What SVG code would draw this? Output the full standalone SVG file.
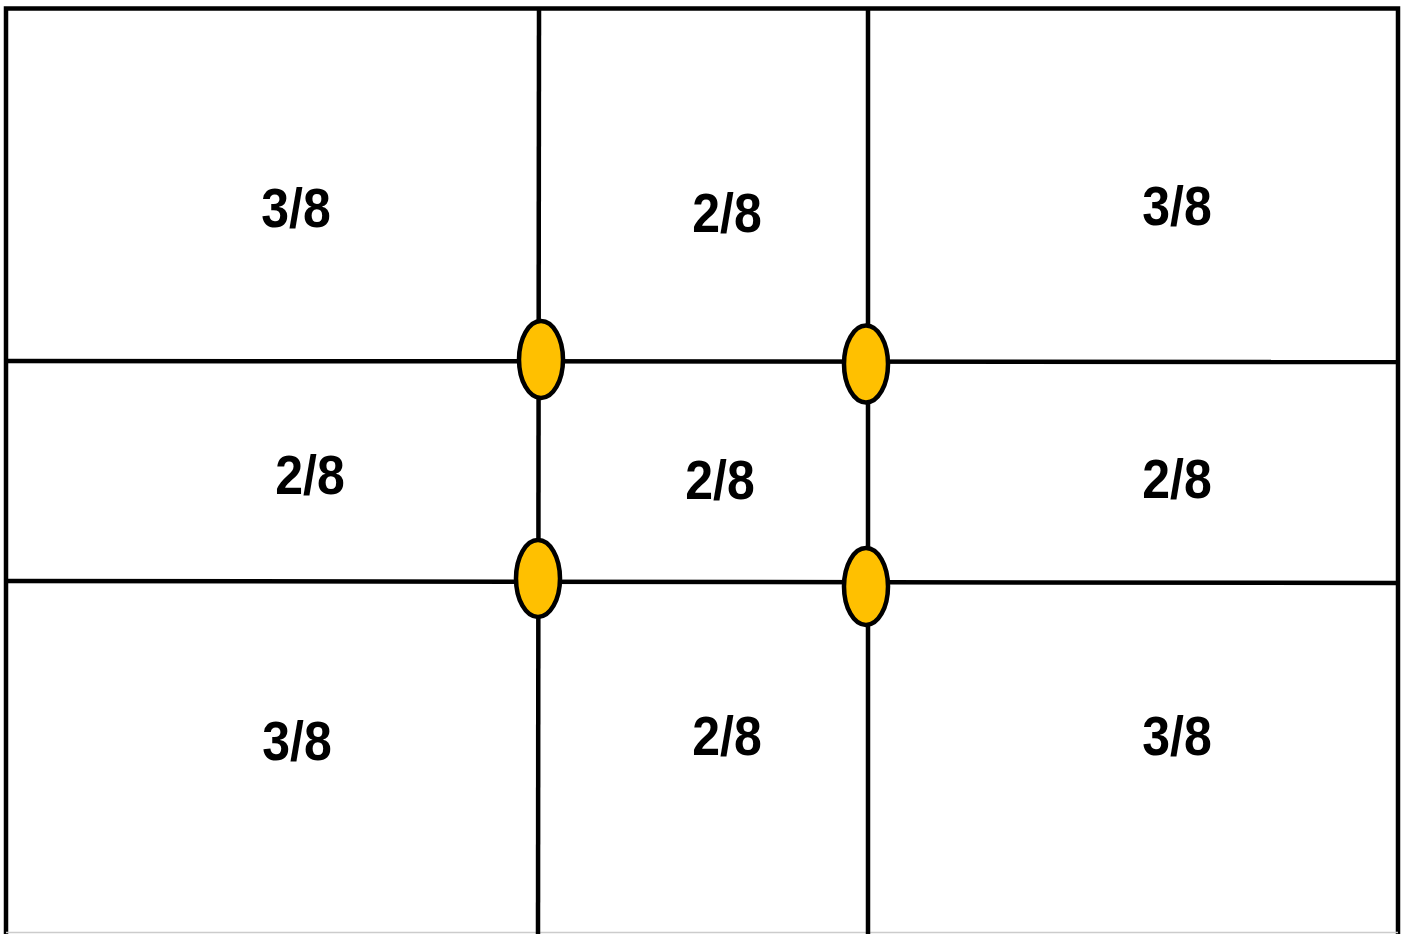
<svg xmlns="http://www.w3.org/2000/svg" width="1405" height="934" viewBox="0 0 1405 934">
<style>
.ln{stroke:#000;stroke-width:4.5;fill:none}
.dot{fill:#FFC000;stroke:#000;stroke-width:4.5}
.lb{font-family:"Liberation Sans",Arial,sans-serif;font-weight:bold;font-size:50px;fill:#000;text-anchor:middle}
</style>
<rect width="1405" height="934" fill="#fff"/>
<g id="grid">
<path class="ln" d="M6 934 V8.5 H1398 V934"/>
<line x1="6" y1="932.5" x2="1398" y2="932.5" stroke="#ccc" stroke-width="1.5"/>
<line class="ln" x1="539" y1="8" x2="538" y2="934"/>
<line class="ln" x1="868" y1="8" x2="868" y2="934"/>
<line class="ln" x1="6" y1="361" x2="1398" y2="362"/>
<line class="ln" x1="6" y1="581" x2="1398" y2="583"/>
</g>
<g id="labels">
<text class="lb" x="296" y="227" transform="translate(296 227) scale(1 1.1) translate(-296 -227)">3/8</text>
<text class="lb" x="727" y="232" transform="translate(727 232) scale(1 1.1) translate(-727 -232)">2/8</text>
<text class="lb" x="1177" y="225" transform="translate(1177 225) scale(1 1.1) translate(-1177 -225)">3/8</text>
<text class="lb" x="310" y="494" transform="translate(310 494) scale(1 1.1) translate(-310 -494)">2/8</text>
<text class="lb" x="720" y="499" transform="translate(720 499) scale(1 1.1) translate(-720 -499)">2/8</text>
<text class="lb" x="1177" y="498" transform="translate(1177 498) scale(1 1.1) translate(-1177 -498)">2/8</text>
<text class="lb" x="297" y="760" transform="translate(297 760) scale(1 1.1) translate(-297 -760)">3/8</text>
<text class="lb" x="727" y="755" transform="translate(727 755) scale(1 1.1) translate(-727 -755)">2/8</text>
<text class="lb" x="1177" y="755" transform="translate(1177 755) scale(1 1.1) translate(-1177 -755)">3/8</text>
</g>
<g id="points">
<ellipse class="dot" cx="541" cy="359.5" rx="22" ry="38.5"/>
<ellipse class="dot" cx="866" cy="364" rx="22" ry="38.5"/>
<ellipse class="dot" cx="538" cy="578.5" rx="22" ry="38.5"/>
<ellipse class="dot" cx="866" cy="586.5" rx="22" ry="38.5"/>
</g>
</svg>
